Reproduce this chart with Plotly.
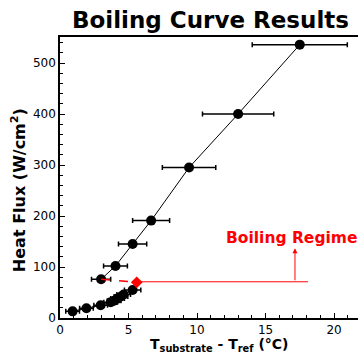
import plotly.graph_objects as go

# Upper (boiling) branch
up_x = [3.0, 4.05, 5.3, 6.65, 9.42, 13.0, 17.5]
up_y = [76, 102, 145, 191, 295, 400, 536]
up_err = [0.7, 0.87, 1.03, 1.35, 1.95, 2.6, 3.47]

# Lower (single-phase) branch
lo_x = [0.92, 1.93, 2.97, 3.7, 3.95, 4.2, 4.45, 4.65, 5.3]
lo_y = [13, 19, 25, 31, 34, 38, 42, 46, 55]
lo_err = [0.5, 0.5, 0.5, 0.5, 0.5, 0.5, 0.5, 0.5, 0.6]

# Transition (red) marker
tr_x = [3.0, 5.6]
tr_y = [76, 70]
regime_x = [5.6, 18.1]
regime_y = [71, 71]
arrow_x = 17.15
arrow_tail_y = 71
arrow_head_y = 137
label_xy = (16.9, 157)

FONT = "DejaVu Sans, Arial, sans-serif"

fig = go.Figure()

fig.add_trace(go.Scatter(
    x=lo_x, y=lo_y, mode="lines+markers",
    line=dict(color="black", width=1),
    marker=dict(color="black", size=10),
    error_x=dict(type="data", array=lo_err, color="black", thickness=1.5, width=2.5),
))
fig.add_trace(go.Scatter(
    x=up_x, y=up_y, mode="lines+markers",
    line=dict(color="black", width=1),
    marker=dict(color="black", size=10),
    error_x=dict(type="data", array=up_err, color="black", thickness=1.5, width=2.5),
))
fig.add_trace(go.Scatter(
    x=tr_x, y=tr_y, mode="lines",
    line=dict(color="red", width=1.5, dash="dash"),
))
fig.add_trace(go.Scatter(
    x=regime_x, y=regime_y, mode="lines",
    line=dict(color="red", width=1),
))
fig.add_trace(go.Scatter(
    x=[tr_x[-1]], y=[tr_y[-1]], mode="markers",
    marker=dict(color="red", size=9, symbol="diamond"),
))

fig.add_annotation(
    x=arrow_x, y=arrow_head_y, ax=arrow_x, ay=arrow_tail_y,
    xref="x", yref="y", axref="x", ayref="y",
    showarrow=True, arrowhead=2, arrowsize=1, arrowwidth=1, arrowcolor="red", text="",
)
fig.add_annotation(
    x=label_xy[0], y=label_xy[1], xref="x", yref="y", showarrow=False,
    text="<b>Boiling Regime</b>", font=dict(color="red", size=15.5, family=FONT),
)

fig.add_annotation(
    x=0.505, y=1, xref="paper", yref="paper", xanchor="center", yanchor="bottom", yshift=2,
    showarrow=False,
    text="<b>Boiling Curve Results</b>", font=dict(color="black", size=23, family=FONT),
)
fig.add_annotation(
    x=-0.141, y=0.455, xref="paper", yref="paper", xanchor="center", yanchor="middle",
    textangle=-90, showarrow=False,
    text="<b>Heat Flux (W/cm<sup>2</sup>)</b>", font=dict(color="black", size=16, family=FONT),
)
fig.add_annotation(
    x=0.535, y=-0.097, xref="paper", yref="paper", xanchor="center", yanchor="middle",
    showarrow=False,
    text="<b>T<sub>substrate</sub> - T<sub>ref</sub> (°C)</b>", font=dict(color="black", size=14, family=FONT),
)

fig.update_xaxes(
    range=[0, 21.75], tickvals=[0, 5, 10, 15, 20], ticks="inside", ticklen=5, tickwidth=1,
    tickcolor="black", showline=True, linecolor="black", linewidth=1.5, mirror=True,
    showgrid=False, zeroline=False, automargin=False,
    minor=dict(dtick=1, ticks="inside", ticklen=3, tickcolor="black", showgrid=False),
    tickfont=dict(size=12, family=FONT, color="black"),
)
fig.update_yaxes(
    range=[0, 551], tickvals=[0, 100, 200, 300, 400, 500], ticks="inside", ticklen=5, tickwidth=1,
    tickcolor="black", showline=True, linecolor="black", linewidth=1.5,
    showgrid=False, zeroline=False, automargin=False,
    minor=dict(dtick=20, ticks="inside", ticklen=3, tickcolor="black", showgrid=False),
    tickfont=dict(size=12, family=FONT, color="black"),
)

fig.update_layout(
    width=358, height=355, showlegend=False,
    margin=dict(l=60, r=0, t=37, b=37, autoexpand=False),
    plot_bgcolor="white", paper_bgcolor="white",
)

fig.write_html("out.html", config={"displayModeBar": False},
               post_script="document.body.style.margin='0';")
